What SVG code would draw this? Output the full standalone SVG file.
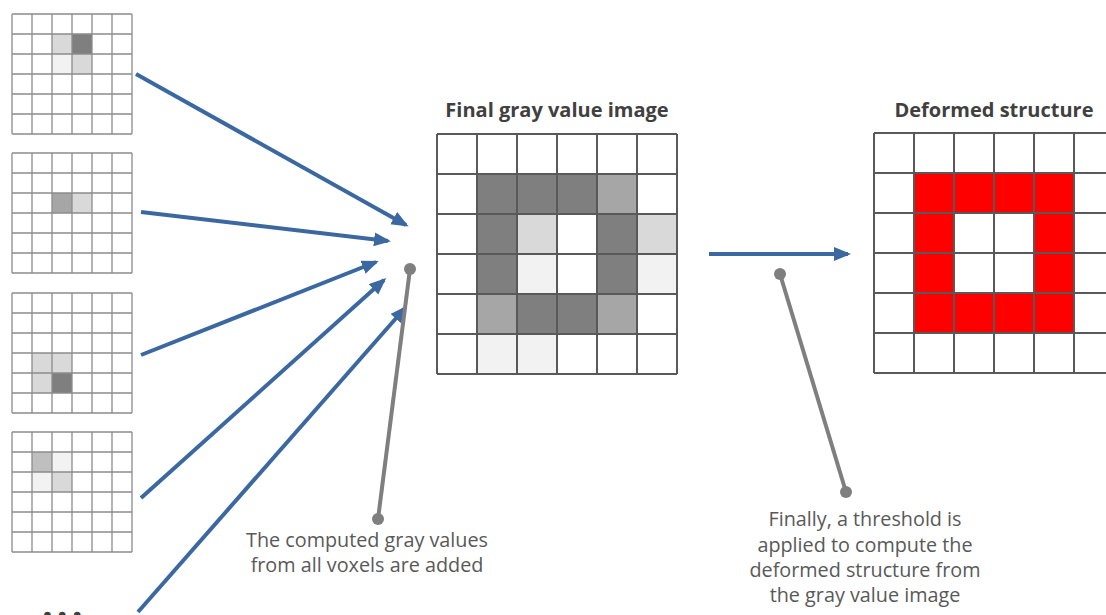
<svg xmlns="http://www.w3.org/2000/svg" xmlns:xlink="http://www.w3.org/1999/xlink" width="1106" height="615" viewBox="0 0 1106 615">
  <style>
    .sg { fill: none; stroke: #8c8c8c; stroke-width: 1.3; }
    .lg { fill: none; stroke: #595959; stroke-width: 2; }
    .D { fill: #7f7f7f; }
    .M { fill: #a6a6a6; }
    .S { fill: #bfbfbf; }
    .L { fill: #d9d9d9; }
    .V { fill: #f2f2f2; }
    .R { fill: #ff0000; }
    .title { font-family: "Open Sans", "Noto Sans", sans-serif; font-weight: bold; font-size: 20px; fill: #404040; text-anchor: middle; }
    .note { font-family: "Open Sans", "Noto Sans", sans-serif; font-size: 19.8px; fill: #595959; text-anchor: middle; }
    .blue { stroke: #3b68a1; stroke-width: 4; fill: none; marker-end: url(#ah); }
    .gray { stroke: #7f7f7f; stroke-width: 4; fill: none; }
    .dot { fill: #7f7f7f; }
  </style>
  <defs>
    <marker id="ah" markerUnits="userSpaceOnUse" markerWidth="18" markerHeight="16" refX="14" refY="7" orient="auto">
      <path d="M0,0 L17,7 L0,14 z" fill="#3b68a1"/>
    </marker>
    <path id="smallgrid" class="sg" d="M0,0H120M0,20H120M0,40H120M0,60H120M0,80H120M0,100H120M0,120H120M0,0V120M20,0V120M40,0V120M60,0V120M80,0V120M100,0V120M120,0V120"/>
    <path id="largegrid" class="lg" d="M0,0H240M0,40H240M0,80H240M0,120H240M0,160H240M0,200H240M0,240H240M0,0V240M40,0V240M80,0V240M120,0V240M160,0V240M200,0V240M240,0V240"/>
  </defs>

  <rect width="1106" height="615" fill="#ffffff"/>

  <g id="voxel-grid-1">
    <rect x="12" y="14" width="120" height="120" fill="#fff"/>
    <rect class="L" x="52" y="34" width="20" height="20"/>
    <rect class="D" x="72" y="34" width="20" height="20"/>
    <rect class="V" x="52" y="54" width="20" height="20"/>
    <rect class="L" x="72" y="54" width="20" height="20"/>
    <use xlink:href="#smallgrid" x="12" y="14"/>
  </g>
  <g id="voxel-grid-2">
    <rect x="12" y="153" width="120" height="120" fill="#fff"/>
    <rect class="M" x="52" y="193" width="20" height="20"/>
    <rect class="L" x="72" y="193" width="20" height="20"/>
    <use xlink:href="#smallgrid" x="12" y="153"/>
  </g>
  <g id="voxel-grid-3">
    <rect x="12" y="293" width="120" height="120" fill="#fff"/>
    <rect class="L" x="32" y="353" width="20" height="20"/>
    <rect class="L" x="52" y="353" width="20" height="20"/>
    <rect class="L" x="32" y="373" width="20" height="20"/>
    <rect class="D" x="52" y="373" width="20" height="20"/>
    <use xlink:href="#smallgrid" x="12" y="293"/>
  </g>
  <g id="voxel-grid-4">
    <rect x="12" y="432" width="120" height="120" fill="#fff"/>
    <rect class="S" x="32" y="452" width="20" height="20"/>
    <rect class="V" x="52" y="452" width="20" height="20"/>
    <rect class="V" x="32" y="472" width="20" height="20"/>
    <rect class="L" x="52" y="472" width="20" height="20"/>
    <use xlink:href="#smallgrid" x="12" y="432"/>
  </g>
  <g id="ellipsis">
    <text x="42" y="618" font-family="'Open Sans', 'Noto Sans', sans-serif" font-weight="bold" font-size="38" fill="#404040" letter-spacing="4">...</text>
  </g>

  <g id="final-gray-image">
    <text class="title" x="557" y="117">Final gray value image</text>
    <rect x="437" y="134" width="240" height="240" fill="#fff"/>
    <rect class="D" x="477" y="174" width="40" height="40"/>
    <rect class="D" x="517" y="174" width="40" height="40"/>
    <rect class="D" x="557" y="174" width="40" height="40"/>
    <rect class="M" x="597" y="174" width="40" height="40"/>
    <rect class="D" x="477" y="214" width="40" height="40"/>
    <rect class="L" x="517" y="214" width="40" height="40"/>
    <rect class="D" x="597" y="214" width="40" height="40"/>
    <rect class="L" x="637" y="214" width="40" height="40"/>
    <rect class="D" x="477" y="254" width="40" height="40"/>
    <rect class="V" x="517" y="254" width="40" height="40"/>
    <rect class="D" x="597" y="254" width="40" height="40"/>
    <rect class="V" x="637" y="254" width="40" height="40"/>
    <rect class="M" x="477" y="294" width="40" height="40"/>
    <rect class="D" x="517" y="294" width="40" height="40"/>
    <rect class="D" x="557" y="294" width="40" height="40"/>
    <rect class="M" x="597" y="294" width="40" height="40"/>
    <rect class="V" x="477" y="334" width="40" height="40"/>
    <rect class="V" x="517" y="334" width="40" height="40"/>
    <use xlink:href="#largegrid" x="437" y="134"/>
  </g>

  <g id="deformed-structure">
    <text class="title" x="994" y="117">Deformed structure</text>
    <rect x="874" y="133" width="240" height="240" fill="#fff"/>
    <rect class="R" x="914" y="173" width="160" height="40"/>
    <rect class="R" x="914" y="213" width="40" height="80"/>
    <rect class="R" x="1034" y="213" width="40" height="80"/>
    <rect class="R" x="914" y="293" width="160" height="40"/>
    <use xlink:href="#largegrid" x="874" y="133"/>
  </g>

  <g id="connectors">
    <line class="blue" x1="136" y1="74" x2="406" y2="225"/>
    <line class="blue" x1="141" y1="212" x2="388" y2="241"/>
    <line class="blue" x1="141" y1="355" x2="376" y2="262"/>
    <line class="blue" x1="141" y1="498" x2="384" y2="280"/>
    <line class="blue" x1="138" y1="612" x2="405" y2="308"/>
    <line class="blue" x1="709" y1="254" x2="848" y2="254"/>
    <line class="gray" x1="410" y1="269" x2="378" y2="519"/>
    <circle class="dot" cx="410" cy="269" r="6"/>
    <circle class="dot" cx="378" cy="519" r="6"/>
    <line class="gray" x1="780" y1="274" x2="846" y2="492"/>
    <circle class="dot" cx="780" cy="274" r="6"/>
    <circle class="dot" cx="846" cy="492" r="6"/>
  </g>

  <g id="note-added">
    <text class="note" x="367" y="547">The computed gray values</text>
    <text class="note" x="367" y="572">from all voxels are added</text>
  </g>
  <g id="note-threshold">
    <text class="note" x="865" y="526">Finally, a threshold is</text>
    <text class="note" x="865" y="552">applied to compute the</text>
    <text class="note" x="865" y="577">deformed structure from</text>
    <text class="note" x="865" y="602">the gray value image</text>
  </g>
</svg>
